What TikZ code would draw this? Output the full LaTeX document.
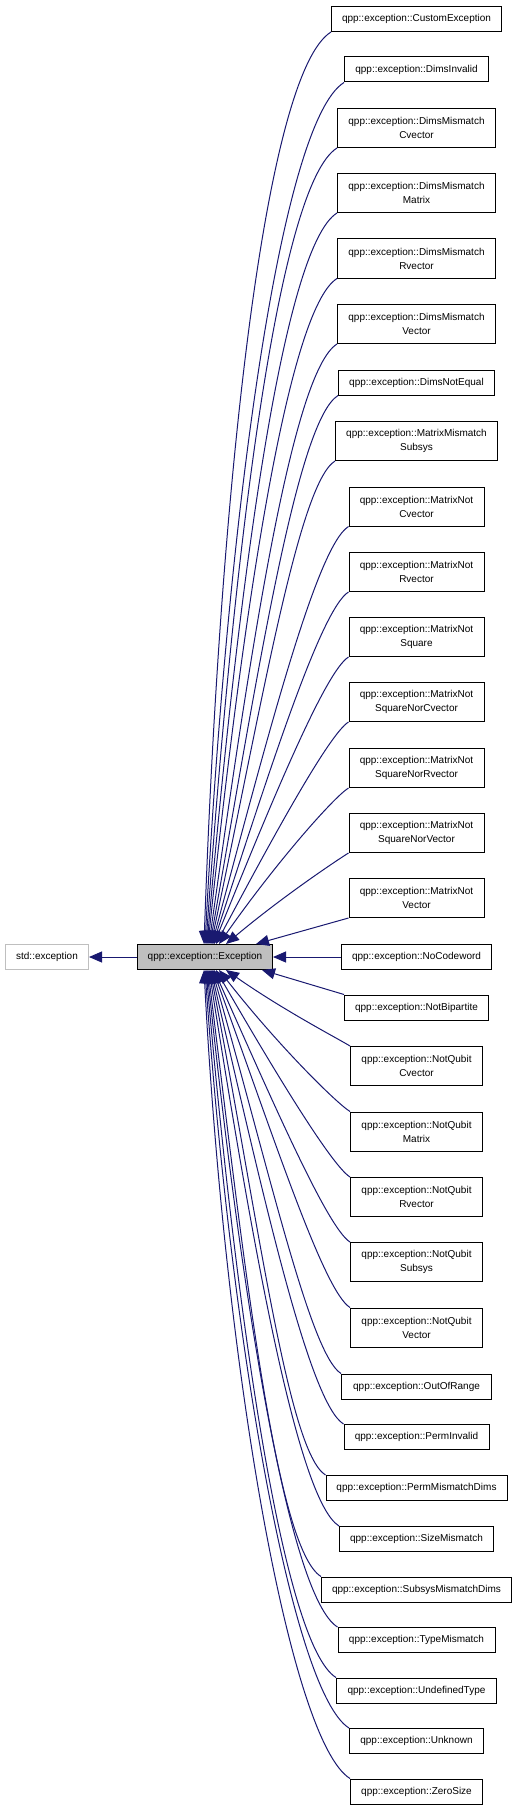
\documentclass[tikz,border=0pt]{standalone}
\usepackage{fontspec}
\usepackage{tikz}
\usetikzlibrary{arrows.meta}
\newfontfamily\helv{Liberation Sans}
\definecolor{edgeblue}{RGB}{25,25,112}
\definecolor{boxgray}{RGB}{191,191,191}

\begin{document}
\begin{tikzpicture}[x=1pt,y=1pt,
cls/.style={draw=black,line width=1pt,fill=white,inner sep=1pt,align=center,font=\helv\fontsize{10}{14}\selectfont,minimum height=25pt},
cls2/.style={cls,minimum height=39pt},
edge/.style={edgeblue,line width=1pt,-{Triangle[length=13pt,width=11pt]}}]
\useasboundingbox(0,0)rectangle(517,-1811);
\node[cls,fill=boxgray,minimum width=135pt](ex)at(205,-957){qpp::exception::Exception};
\node[cls,draw=boxgray,minimum width=83pt](std)at(47,-957){std::exception};
\node[cls,minimum width=170pt](custom)at(416.5,-19){qpp::exception::CustomException};
\node[cls,minimum width=144pt](dimsinv)at(416.5,-69.5){qpp::exception::DimsInvalid};
\node[cls2,minimum width=158pt](dmcv)at(416.5,-128){qpp::exception::DimsMismatch\\Cvector};
\node[cls2,minimum width=158pt](dmmat)at(416.5,-193){qpp::exception::DimsMismatch\\Matrix};
\node[cls2,minimum width=158pt](dmrv)at(416.5,-258.5){qpp::exception::DimsMismatch\\Rvector};
\node[cls2,minimum width=158pt](dmvec)at(416.5,-324){qpp::exception::DimsMismatch\\Vector};
\node[cls,minimum width=156pt](dne)at(416.5,-382.5){qpp::exception::DimsNotEqual};
\node[cls2,minimum width=162pt](mmsub)at(416.5,-441){qpp::exception::MatrixMismatch\\Subsys};
\node[cls2,minimum width=135pt](mncv)at(416.5,-506.5){qpp::exception::MatrixNot\\Cvector};
\node[cls2,minimum width=135pt](mnrv)at(416.5,-572){qpp::exception::MatrixNot\\Rvector};
\node[cls2,minimum width=135pt](mnsq)at(416.5,-637){qpp::exception::MatrixNot\\Square};
\node[cls2,minimum width=135pt](mnsqc)at(416.5,-702){qpp::exception::MatrixNot\\SquareNorCvector};
\node[cls2,minimum width=135pt](mnsqr)at(416.5,-768){qpp::exception::MatrixNot\\SquareNorRvector};
\node[cls2,minimum width=135pt](mnsqv)at(416.5,-833){qpp::exception::MatrixNot\\SquareNorVector};
\node[cls2,minimum width=135pt](mnvec)at(416.5,-898){qpp::exception::MatrixNot\\Vector};
\node[cls,minimum width=150pt](nocw)at(416.5,-957){qpp::exception::NoCodeword};
\node[cls,minimum width=144pt](nobip)at(416.5,-1007.5){qpp::exception::NotBipartite};
\node[cls2,minimum width=132pt](nqcv)at(416.5,-1066){qpp::exception::NotQubit\\Cvector};
\node[cls2,minimum width=132pt](nqmat)at(416.5,-1131.5){qpp::exception::NotQubit\\Matrix};
\node[cls2,minimum width=132pt](nqrv)at(416.5,-1197){qpp::exception::NotQubit\\Rvector};
\node[cls2,minimum width=132pt](nqsub)at(416.5,-1262){qpp::exception::NotQubit\\Subsys};
\node[cls2,minimum width=132pt](nqvec)at(416.5,-1327.5){qpp::exception::NotQubit\\Vector};
\node[cls,minimum width=150pt](oor)at(416.5,-1386.5){qpp::exception::OutOfRange};
\node[cls,minimum width=145pt](perminv)at(416.5,-1437){qpp::exception::PermInvalid};
\node[cls,minimum width=181pt](permdims)at(416.5,-1488){qpp::exception::PermMismatchDims};
\node[cls,minimum width=154pt](sizem)at(416.5,-1539){qpp::exception::SizeMismatch};
\node[cls,minimum width=190pt](subdims)at(416.5,-1589.5){qpp::exception::SubsysMismatchDims};
\node[cls,minimum width=157pt](typem)at(416.5,-1640){qpp::exception::TypeMismatch};
\node[cls,minimum width=160pt](undef)at(416.5,-1690.5){qpp::exception::UndefinedType};
\node[cls,minimum width=134pt](unknown)at(416.5,-1741){qpp::exception::Unknown};
\node[cls,minimum width=132pt](zero)at(416.5,-1791.5){qpp::exception::ZeroSize};
\draw[edge](ex)--(std);\draw[edge](nocw)--(ex);
\draw[edge](mnvec.south west)--([xshift=51pt]ex.north);\draw[edge](nobip.north west)--([xshift=57pt]ex.south);
\foreach \n/\dx/\ia in {custom/-1/88,dimsinv/0/87,dmcv/1/86,dmmat/2/85,dmrv/3/84,dmvec/4/82,dne/5/80,mmsub/6/78,mncv/7/75,mnrv/8/72,mnsq/9/68,mnsqc/11/62,mnsqr/14/55,mnsqv/21/40}
  \draw[edge](\n.south west)to[out=212,in=\ia,out looseness=0.22,in looseness=1.25]([xshift=\dx pt]ex.north);
\foreach \n/\dx/\ia in {nqcv/21/-35,nqmat/14/-52,nqrv/11/-60,nqsub/9/-66,nqvec/8/-70,oor/7/-74,perminv/6/-77,permdims/5/-79,sizem/4/-81,subdims/3/-83,typem/2/-84,undef/1/-85,unknown/0/-86,zero/-1/-87}
  \draw[edge](\n.north west)to[out=148,in=\ia,out looseness=0.22,in looseness=1.25]([xshift=\dx pt]ex.south);
\end{tikzpicture}
\end{document}
